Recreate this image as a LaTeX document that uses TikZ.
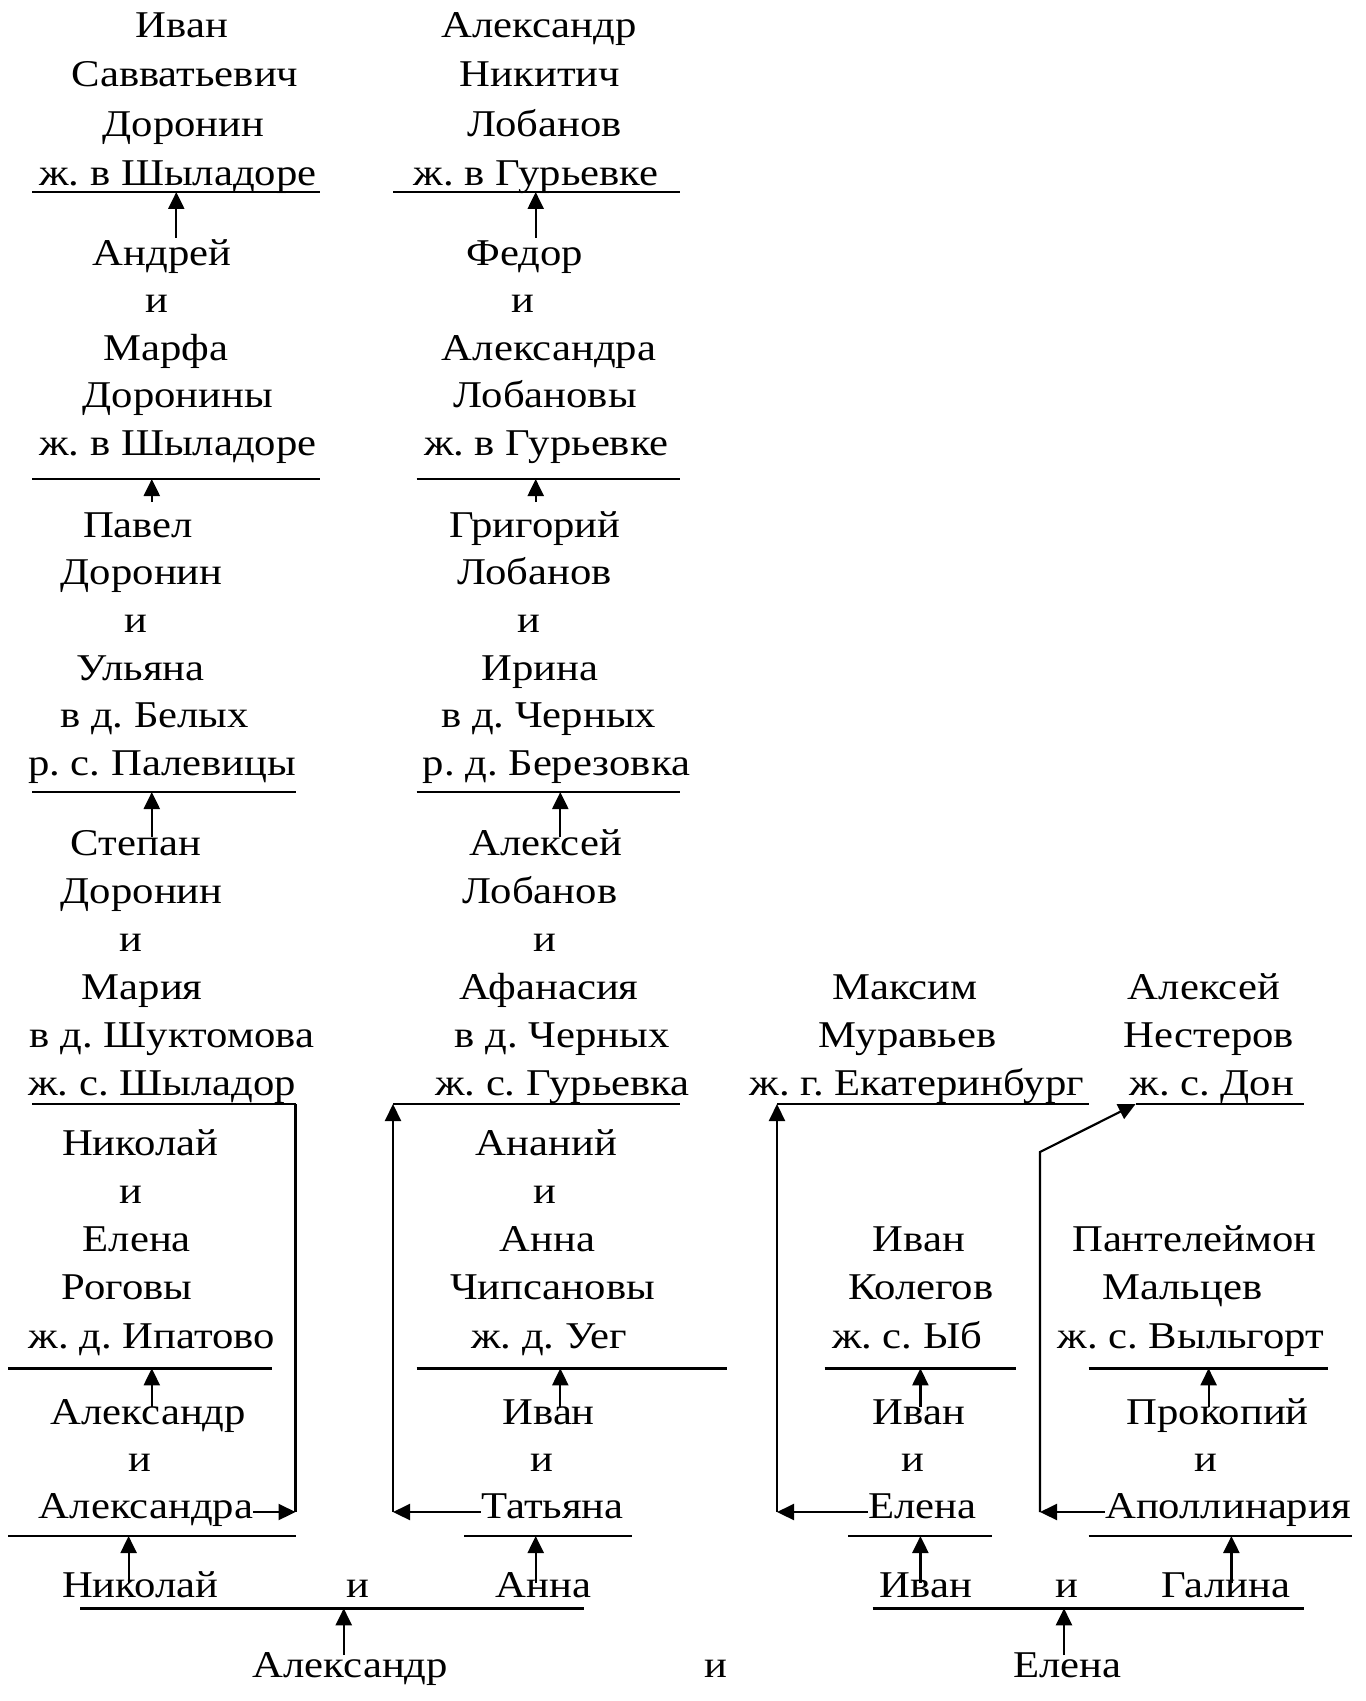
\documentclass[tikz,border=0pt]{standalone}
\usepackage{fontspec}
\setmainfont{Liberation Serif}[FakeStretch=1.13]
\frenchspacing
\usetikzlibrary{arrows.meta, calc}
\tikzset{
  person/.style={anchor=base, inner sep=0pt, font=\fontsize{18.9}{22}\selectfont},
  famline/.style={line width=1.3pt},
  link/.style={line width=1.1pt},
  arrow/.style={-{Triangle[length=8.5pt, width=8pt]}, line width=1.1pt}
}

\begin{document}
\begin{tikzpicture}[x=0.5pt, y=-0.5pt]
\useasboundingbox (0,0) rectangle (1365,1701);

% family blocks, one node per printed line
\foreach \blk/\rows in {
A1/{182/38/Иван, 185/87/Савватьевич, 183.5/137/Доронин, 178/186/ж. в Шыладоре},
B1/{539/38/Александр, 540/87/Никитич, 544.6/137/Лобанов, 536/186/ж. в Гурьевке},
A2/{162/266/Андрей, 157/313/и, 166/360/Марфа, 178/407.5/Доронины, 178/455/ж. в Шыладоре},
B2/{524.6/266/Федор, 523.4/313/и, 549/360/Александра, 545.3/407.5/Лобановы, 546.4/455/ж. в Гурьевке},
A3/{138/537/Павел, 141.7/584.6/Доронин, 135.7/632/и, 140.6/680/Ульяна, 154.7/727.5/в д. Белых, 162.3/775/р. с. Палевицы},
B3/{535/537/Григорий, 534.6/584.6/Лобанов, 529/632/и, 539.7/680/Ирина, 548.7/727.5/в д. Черных, 556.4/775/р. д. Березовка},
A4/{136/855/Степан, 141.7/903/Доронин, 130.6/951/и, 142.2/999/Мария, 171.9/1047/в д. Шуктомова, 162.3/1095/ж. с. Шыладор},
B4/{545.8/855/Алексей, 540/903/Лобанов, 544.6/951/и, 549/999/Афанасия, 562/1047/в д. Черных, 562.5/1095/ж. с. Гурьевка},
C4/{905/999/Максим, 907.6/1047/Муравьев, 916.8/1095/ж. г. Екатеринбург},
D4/{1204/999/Алексей, 1209/1047/Нестеров, 1211.8/1095/ж. с. Дон},
A5/{140.2/1155/Николай, 130.6/1203/и, 136.8/1251/Елена, 127.2/1299.5/Роговы, 151.8/1348/ж. д. Ипатово},
B5/{546.4/1155/Ананий, 544.6/1203/и, 547.3/1251/Анна, 552.5/1299.5/Чипсановы, 549.1/1348/ж. д. Уег},
C5/{919/1251/Иван, 920.7/1299.5/Колегов, 907.2/1348/ж. с. Ыб},
D5/{1194.5/1251/Пантелеймон, 1182.4/1299.5/Мальцев, 1191/1348/ж. с. Выльгорт},
A6/{148.4/1424/Александр, 139.5/1471/и, 146/1518/Александра},
B6/{548.7/1424/Иван, 542/1471/и, 552.5/1518/Татьяна},
C6/{919/1424/Иван, 913/1471/и, 922.5/1518/Елена},
D6/{1217.7/1424/Прокопий, 1206.3/1471/и, 1228/1518/Аполлинария}}
{
  \foreach \x/\y/\t [count=\i] in \rows
    \node[person] (\blk-\i) at (\x,\y) {\t};
}

% parents of the last two
\node[person] (nik) at (140.2,1597) {Николай};
\node[person] (and1) at (358,1597) {и};
\node[person] (anna) at (543.5,1597) {Анна};
\node[person] (ivan) at (926,1597) {Иван};
\node[person] (and2) at (1067,1597) {и};
\node[person] (galina) at (1225.7,1597) {Галина};

\node[person] (alex) at (350.4,1677) {Александр};
\node[person] (and3) at (716,1677) {и};
\node[person] (elena) at (1067.3,1677) {Елена};

% lines under the blocks: name / left / right / y / arrow x
\foreach \n/\xa/\xb/\y/\xt in {
A1/32/320/192/176.3, B1/393/680/192/535.7,
A2/32/320/479/151.8, B2/416.5/680/479/535.7,
A3/32/295.5/792/151.8, B3/416.5/680/792/560.3,
A4/32/295.5/1104/295.5, B4/393/680/1104/393,
C4/777/1089/1104/777, D4/1135.6/1304/1104/1135.6,
A5/8/272/1368.3/151.8, B5/416.5/727/1368.3/560.3,
C5/824.6/1016/1368.3/920.4, D5/1088.7/1328/1368.3/1208.6,
A6/8/295.5/1536/128.6, B6/464.3/631.7/1536/535.7,
C6/848.4/992/1536/920.4, D6/1088.7/1352/1536/1231.4,
R7L/80.4/584/1608.3/343.75, R7R/872.5/1304.4/1608.3/1064}
{
  \coordinate (\n-l) at (\xa,\y);
  \coordinate (\n-r) at (\xb,\y);
  \coordinate (\n-t) at (\xt,\y);
  \draw[famline] (\n-l) -- (\n-r);
}

% child -> parents
\foreach \from/\to/\up in {
A2-1/A1/28, B2-1/B1/28, A3-1/A2/35, B3-1/B2/35,
A4-1/A3/18, B4-1/B3/18, A6-1/A5/17, B6-1/B5/17,
C6-1/C5/17, D6-1/D5/17, nik/A6/14, anna/B6/14,
ivan/C6/14, galina/D6/14, alex/R7L/22, elena/R7R/22}
  \draw[arrow] (\from.base -| \to-t) ++(0,-\up) -- (\to-t);

% side links to the older generations
\coordinate (A6-c) at (295.5,1512);
\coordinate (B6-c) at (393,1512);
\coordinate (C6-c) at (777,1512);
\coordinate (D6-c) at (1040,1512);
\coordinate (D-bend) at (1040,1152);

\draw[link] (A4-r) -- (A6-c);
\draw[arrow] (A6-3.east |- A6-c) -- (A6-c);
\draw[arrow] (B6-c) -- (B4-l);
\draw[arrow] (B6-3.west |- B6-c) -- (B6-c);
\draw[arrow] (C6-c) -- (C4-l);
\draw[arrow] (C6-3.west |- C6-c) -- (C6-c);
\draw[arrow] (D6-c) -- (D-bend) -- (D4-l);
\draw[arrow] (D6-3.west |- D6-c) -- (D6-c);
\end{tikzpicture}
\end{document}
